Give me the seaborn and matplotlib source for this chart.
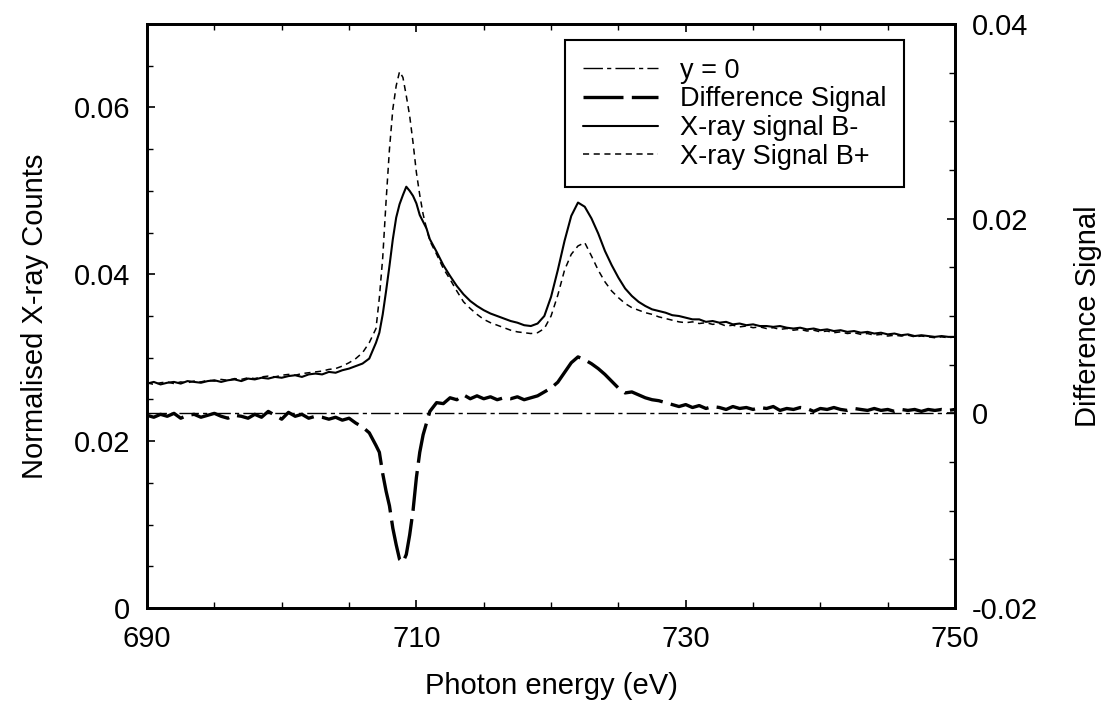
import numpy as np
import matplotlib
matplotlib.use("Agg")
import matplotlib.pyplot as plt
from matplotlib.ticker import MultipleLocator, FixedLocator, FixedFormatter
import seaborn as sns

# Photon energy grid (eV): finer sampling across the L3 edge
energy = np.concatenate([np.arange(690, 707, 0.5),
                         np.arange(707, 711, 0.25),
                         np.arange(711, 750.01, 0.5)])

# Normalised X-ray counts for field direction B-
signal_bminus = [
    .0269, .0271, .0268, .0270, .0271, .0269, .0272, .0271, .0270, .0272,
    .0273, .0271, .0273, .0274, .0272, .0275, .0274, .0276, .0275, .0277,
    .0276, .0278, .0279, .0277, .0280, .0281, .0280, .0283, .0282, .0285,
    .0287, .0290, .0293, .0299,
    .0318, .0330, .0352, .0380, .0410, .0442, .0468, .0484,
    .0495, .0505, .0500, .0494, .0485, .0471, .0463, .0455,
    .0442, .0427, .0411, .0398, .0386, .0376, .0368, .0362, .0357, .0353,
    .0350, .0347, .0344, .0342, .0339, .0338, .0341, .0350, .0373, .0405,
    .0440, .0470, .0486, .0481, .0467, .0449, .0428, .0411, .0396, .0383,
    .0374, .0367, .0362, .0358, .0356, .0354, .0351, .0350, .0348, .0346,
    .0346, .0343, .0344, .0342, .0343, .0340, .0341, .0339, .0340, .0338,
    .0338, .0337, .0338, .0336, .0335, .0336, .0334, .0335, .0333, .0334,
    .0332, .0333, .0331, .0332, .0330, .0331, .0329, .0330, .0328, .0329,
    .0327, .0328, .0326, .0327, .0326, .0325, .0326, .0325, .0325,
]

# Normalised X-ray counts for field direction B+
signal_bplus = [
    .0270, .0268, .0270, .0271, .0269, .0271, .0270, .0272, .0271, .0273,
    .0272, .0274, .0273, .0275, .0274, .0276, .0275, .0277, .0278, .0277,
    .0279, .0280, .0279, .0281, .0282, .0283, .0284, .0286, .0287, .0290,
    .0294, .0299, .0306, .0318,
    .0335, .0372, .0420, .0488, .0550, .0598, .0626, .0643,
    .0636, .0614, .0590, .0558, .0522, .0495, .0472, .0455,
    .0440, .0424, .0407, .0394, .0380, .0367, .0359, .0352, .0346, .0342,
    .0339, .0336, .0333, .0331, .0330, .0329, .0330, .0335, .0350, .0375,
    .0405, .0424, .0434, .0438, .0422, .0405, .0391, .0380, .0372, .0365,
    .0360, .0357, .0354, .0352, .0349, .0347, .0345, .0343, .0342, .0343,
    .0341, .0342, .0340, .0341, .0338, .0339, .0337, .0338, .0336, .0337,
    .0335, .0336, .0334, .0335, .0333, .0334, .0332, .0333, .0331, .0332,
    .0330, .0331, .0329, .0330, .0328, .0329, .0327, .0328, .0326, .0327,
    .0326, .0327, .0325, .0326, .0325, .0324, .0325, .0324, .0325,
]

# Difference signal (right-hand axis)
difference = [
    -.0002, -.0004, -.0001, -.0003, .0000, -.0005, -.0002, -.0001, -.0004, -.0002,
    .0000, -.0003, -.0005, -.0002, -.0003, -.0005, -.0001, -.0004, .0002, -.0002,
    -.0006, .0001, -.0003, -.0001, -.0005, -.0003, -.0004, -.0006, -.0004, -.0007,
    -.0005, -.0010, -.0014, -.0020,
    -.0033, -.0040, -.0062, -.0080, -.0095, -.0118, -.0135, -.0150,
    -.0153, -.0145, -.0125, -.0100, -.0066, -.0040, -.0022, -.0010,
    .0002, .0011, .0010, .0016, .0014, .0019, .0015, .0018, .0015, .0017,
    .0014, .0016, .0015, .0017, .0014, .0016, .0018, .0022, .0026, .0032,
    .0042, .0052, .0058, .0055, .0051, .0046, .0040, .0033, .0026, .0021,
    .0022, .0019, .0016, .0014, .0013, .0011, .0009, .0007, .0009, .0006,
    .0008, .0005, .0007, .0006, .0004, .0007, .0005, .0006, .0004, .0006,
    .0005, .0007, .0003, .0005, .0004, .0006, .0005, .0002, .0005, .0004,
    .0006, .0004, .0003, .0005, .0004, .0003, .0005, .0003, .0004, .0002,
    .0004, .0003, .0004, .0002, .0004, .0003, .0004, .0003, .0004,
]

left_ticks = [0, 0.02, 0.04, 0.06]
left_labels = ["0", "0.02", "0.04", "0.06"]
right_ticks = [-0.02, 0, 0.02, 0.04]
right_labels = ["-0.02", "0", "0.02", "0.04"]
x_ticks = [690, 710, 730, 750]
x_labels = ["690", "710", "730", "750"]

sns.set_style("ticks")
plt.rcParams["font.family"] = ["Liberation Sans", "DejaVu Sans"]
plt.rcParams["axes.unicode_minus"] = False
plt.rcParams["text.color"] = "black"
plt.rcParams["axes.labelcolor"] = "black"
plt.rcParams["xtick.color"] = "black"
plt.rcParams["ytick.color"] = "black"

fig = plt.figure(figsize=(11.09, 7.17), dpi=100)
ax = fig.add_axes([0.1326, 0.152, 0.7286, 0.8145])
ax2 = ax.twinx()

# Spectra on the left axis
sns.lineplot(x=energy, y=signal_bminus, ax=ax, color="black", linewidth=1.5)
line_bminus = ax.lines[-1]
sns.lineplot(x=energy, y=signal_bplus, ax=ax, color="black", linewidth=1.1)
line_bplus = ax.lines[-1]
line_bplus.set_dashes((4, 3))

# Difference and its zero reference on the right axis
zero_line = ax2.axhline(0, color="black", linewidth=1.0)
zero_line.set_dashes((14, 3, 3, 3))
sns.lineplot(x=energy, y=difference, ax=ax2, color="black", linewidth=2.4)
line_diff = ax2.lines[-1]
line_diff.set_dashes((12, 2.5))

ax.set_xlim(690, 750)
ax.set_ylim(0, 0.07)
ax2.set_ylim(-0.02, 0.04)

tick_fs = 21
ax.xaxis.set_major_locator(FixedLocator(x_ticks))
ax.xaxis.set_major_formatter(FixedFormatter(x_labels))
ax.xaxis.set_minor_locator(MultipleLocator(5))
ax.yaxis.set_major_locator(FixedLocator(left_ticks))
ax.yaxis.set_major_formatter(FixedFormatter(left_labels))
ax.yaxis.set_minor_locator(MultipleLocator(0.005))
ax2.yaxis.set_major_locator(FixedLocator(right_ticks))
ax2.yaxis.set_major_formatter(FixedFormatter(right_labels))
ax2.yaxis.set_minor_locator(MultipleLocator(0.005))

ax.tick_params(axis="both", which="major", direction="in", length=6, width=1.2,
               labelsize=tick_fs, pad=12, colors="black")
ax.tick_params(axis="both", which="minor", direction="in", length=4, width=1.0)
ax.tick_params(axis="x", which="both", top=True)
ax.tick_params(axis="y", which="both", right=False)
ax2.tick_params(axis="y", which="major", direction="in", length=6, width=1.2,
                labelsize=tick_fs, pad=12, colors="black")
ax2.tick_params(axis="y", which="minor", direction="in", length=4, width=1.0)

for a in (ax, ax2):
    for s in a.spines.values():
        s.set_linewidth(2.0)
        s.set_color("black")
        s.set_visible(True)

ax.set_xlabel("Photon energy (eV)", fontsize=21, labelpad=14, color="black")
ax.set_ylabel("Normalised X-ray Counts", fontsize=21, labelpad=18, color="black")
ax2.set_ylabel("Difference Signal", fontsize=21, labelpad=26, color="black")

handles = [zero_line, line_diff, line_bminus, line_bplus]
labels = ["y = 0", "Difference Signal", "X-ray signal B-", "X-ray Signal B+"]
leg = ax2.legend(handles, labels, loc="upper right", bbox_to_anchor=(0.937, 0.9726),
                 fontsize=19.5, frameon=True, fancybox=False, framealpha=1,
                 edgecolor="black", handlelength=2.8, handletextpad=0.8,
                 labelspacing=0.1, borderpad=0.65, borderaxespad=0)
leg.get_frame().set_linewidth(1.5)
for t in leg.get_texts():
    t.set_color("black")

fig.savefig("out.png", dpi=100, facecolor="white")
